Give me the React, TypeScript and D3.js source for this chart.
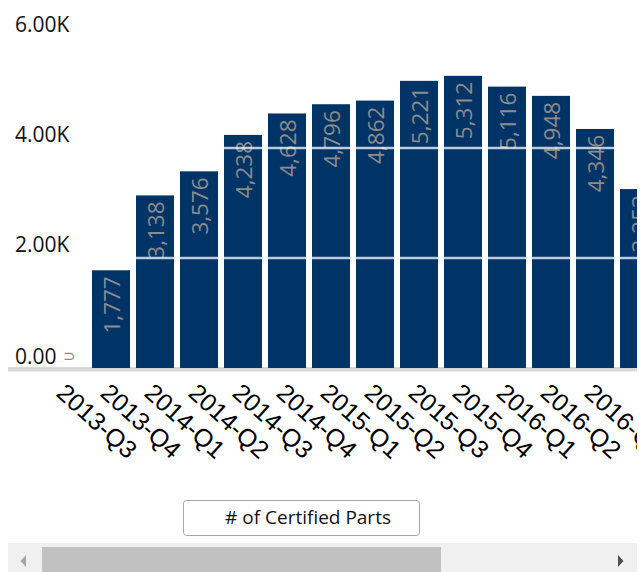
import React from 'react';
import * as d3 from 'd3';

const quarters = [
  '2013-Q3', '2013-Q4', '2014-Q1', '2014-Q2', '2014-Q3', '2014-Q4', '2015-Q1',
  '2015-Q2', '2015-Q3', '2015-Q4', '2016-Q1', '2016-Q2', '2016-Q3',
];
const certifiedParts = [1777, 3138, 3576, 4238, 4628, 4796, 4862, 5221, 5312, 5116, 4948, 4346, 3253];
const yTicks = [0, 2000, 4000, 6000];
const legendLabel = '# of Certified Parts';

const W = 644;
const H = 572;
const clipRight = 637;

const x = d3.scaleBand<string>()
  .domain(quarters)
  .range([89, 89 + quarters.length * 44])
  .paddingInner(6 / 44)
  .paddingOuter(3 / 44);

const y = d3.scaleLinear().domain([0, 6000]).range([368, 38]);

const fmtTick = (v: number) => (v === 0 ? '0.00' : d3.format('.2f')(v / 1000) + 'K');
const fmtVal = d3.format(',');

const sans = "'Open Sans', 'Noto Sans', sans-serif";

export default function App() {
  return (
    <svg
      width={W}
      height={H}
      style={{ position: 'absolute', left: 0, top: 0, display: 'block', background: '#fff' }}
    >
      <defs>
        <clipPath id="plot-clip">
          <rect x={0} y={0} width={clipRight} height={500} />
        </clipPath>
      </defs>

      {/* y axis labels */}
      {yTicks.map(t => (
        <text
          key={t}
          x={15}
          y={y(t) - (t === 0 ? 4.5 : 6.5)}
          fontFamily={sans}
          fontSize={21}
          fill="#111"
        >
          {fmtTick(t)}
        </text>
      ))}
      <text x={63} y={361} fontFamily="'DejaVu Sans', sans-serif" fontSize={15} fill="#8a8a8a">⊃</text>

      <g clipPath="url(#plot-clip)">
        {/* zero band */}
        <rect x={8} y={y(0) - 1} width={clipRight - 8} height={4.5} fill="#d9d9d9" />

        {/* bars */}
        {quarters.map((q, i) => (
          <rect
            key={q}
            x={x(q)}
            y={y(certifiedParts[i])}
            width={x.bandwidth()}
            height={y(0) - y(certifiedParts[i])}
            fill="#003366"
          />
        ))}

        {/* value labels */}
        {quarters.map((q, i) => {
          const cx = (x(q) as number) + x.bandwidth() / 2 + 9;
          const ty = y(certifiedParts[i]) + 6;
          return (
            <text
              key={q}
              transform={`translate(${cx},${ty}) rotate(-90)`}
              textAnchor="end"
              fontFamily={sans}
              fontSize={22.5}
              fill="#8c8c8c"
            >
              {fmtVal(certifiedParts[i])}
            </text>
          );
        })}

        {/* gridlines drawn over the bars */}
        {yTicks.filter(t => t > 0).map(t => (
          <line
            key={t}
            x1={8}
            x2={clipRight}
            y1={y(t)}
            y2={y(t)}
            stroke="#ffffff"
            strokeOpacity={0.75}
            strokeWidth={2.6}
          />
        ))}

        {/* x axis labels */}
        {quarters.map(q => {
          const ax = (x(q) as number) + x.bandwidth() / 2 - 56;
          return (
            <text
              key={q}
              transform={`translate(${ax},395) rotate(42)`}
              fontFamily="'Liberation Sans', Arial, sans-serif"
              fontSize={25}
              fill="#000"
            >
              {q}
            </text>
          );
        })}
      </g>

      {/* legend */}
      <rect x={183.5} y={500.5} width={236} height={35} rx={3} fill="#fff" stroke="#a6a6a6" />
      <text x={308} y={524} textAnchor="middle" fontFamily={sans} fontSize={19} fill="#111">
        {legendLabel}
      </text>

      {/* scrollbar */}
      <rect x={8} y={543} width={clipRight - 8} height={29} fill="#f0f0f0" />
      <rect x={42} y={547} width={399} height={25} fill="#c1c1c1" />
      <path d="M20.5,561 L26,555 L26,567 Z" fill="#a3a3a3" />
      <path d="M623.5,561 L618,555 L618,567 Z" fill="#505050" />
    </svg>
  );
}
